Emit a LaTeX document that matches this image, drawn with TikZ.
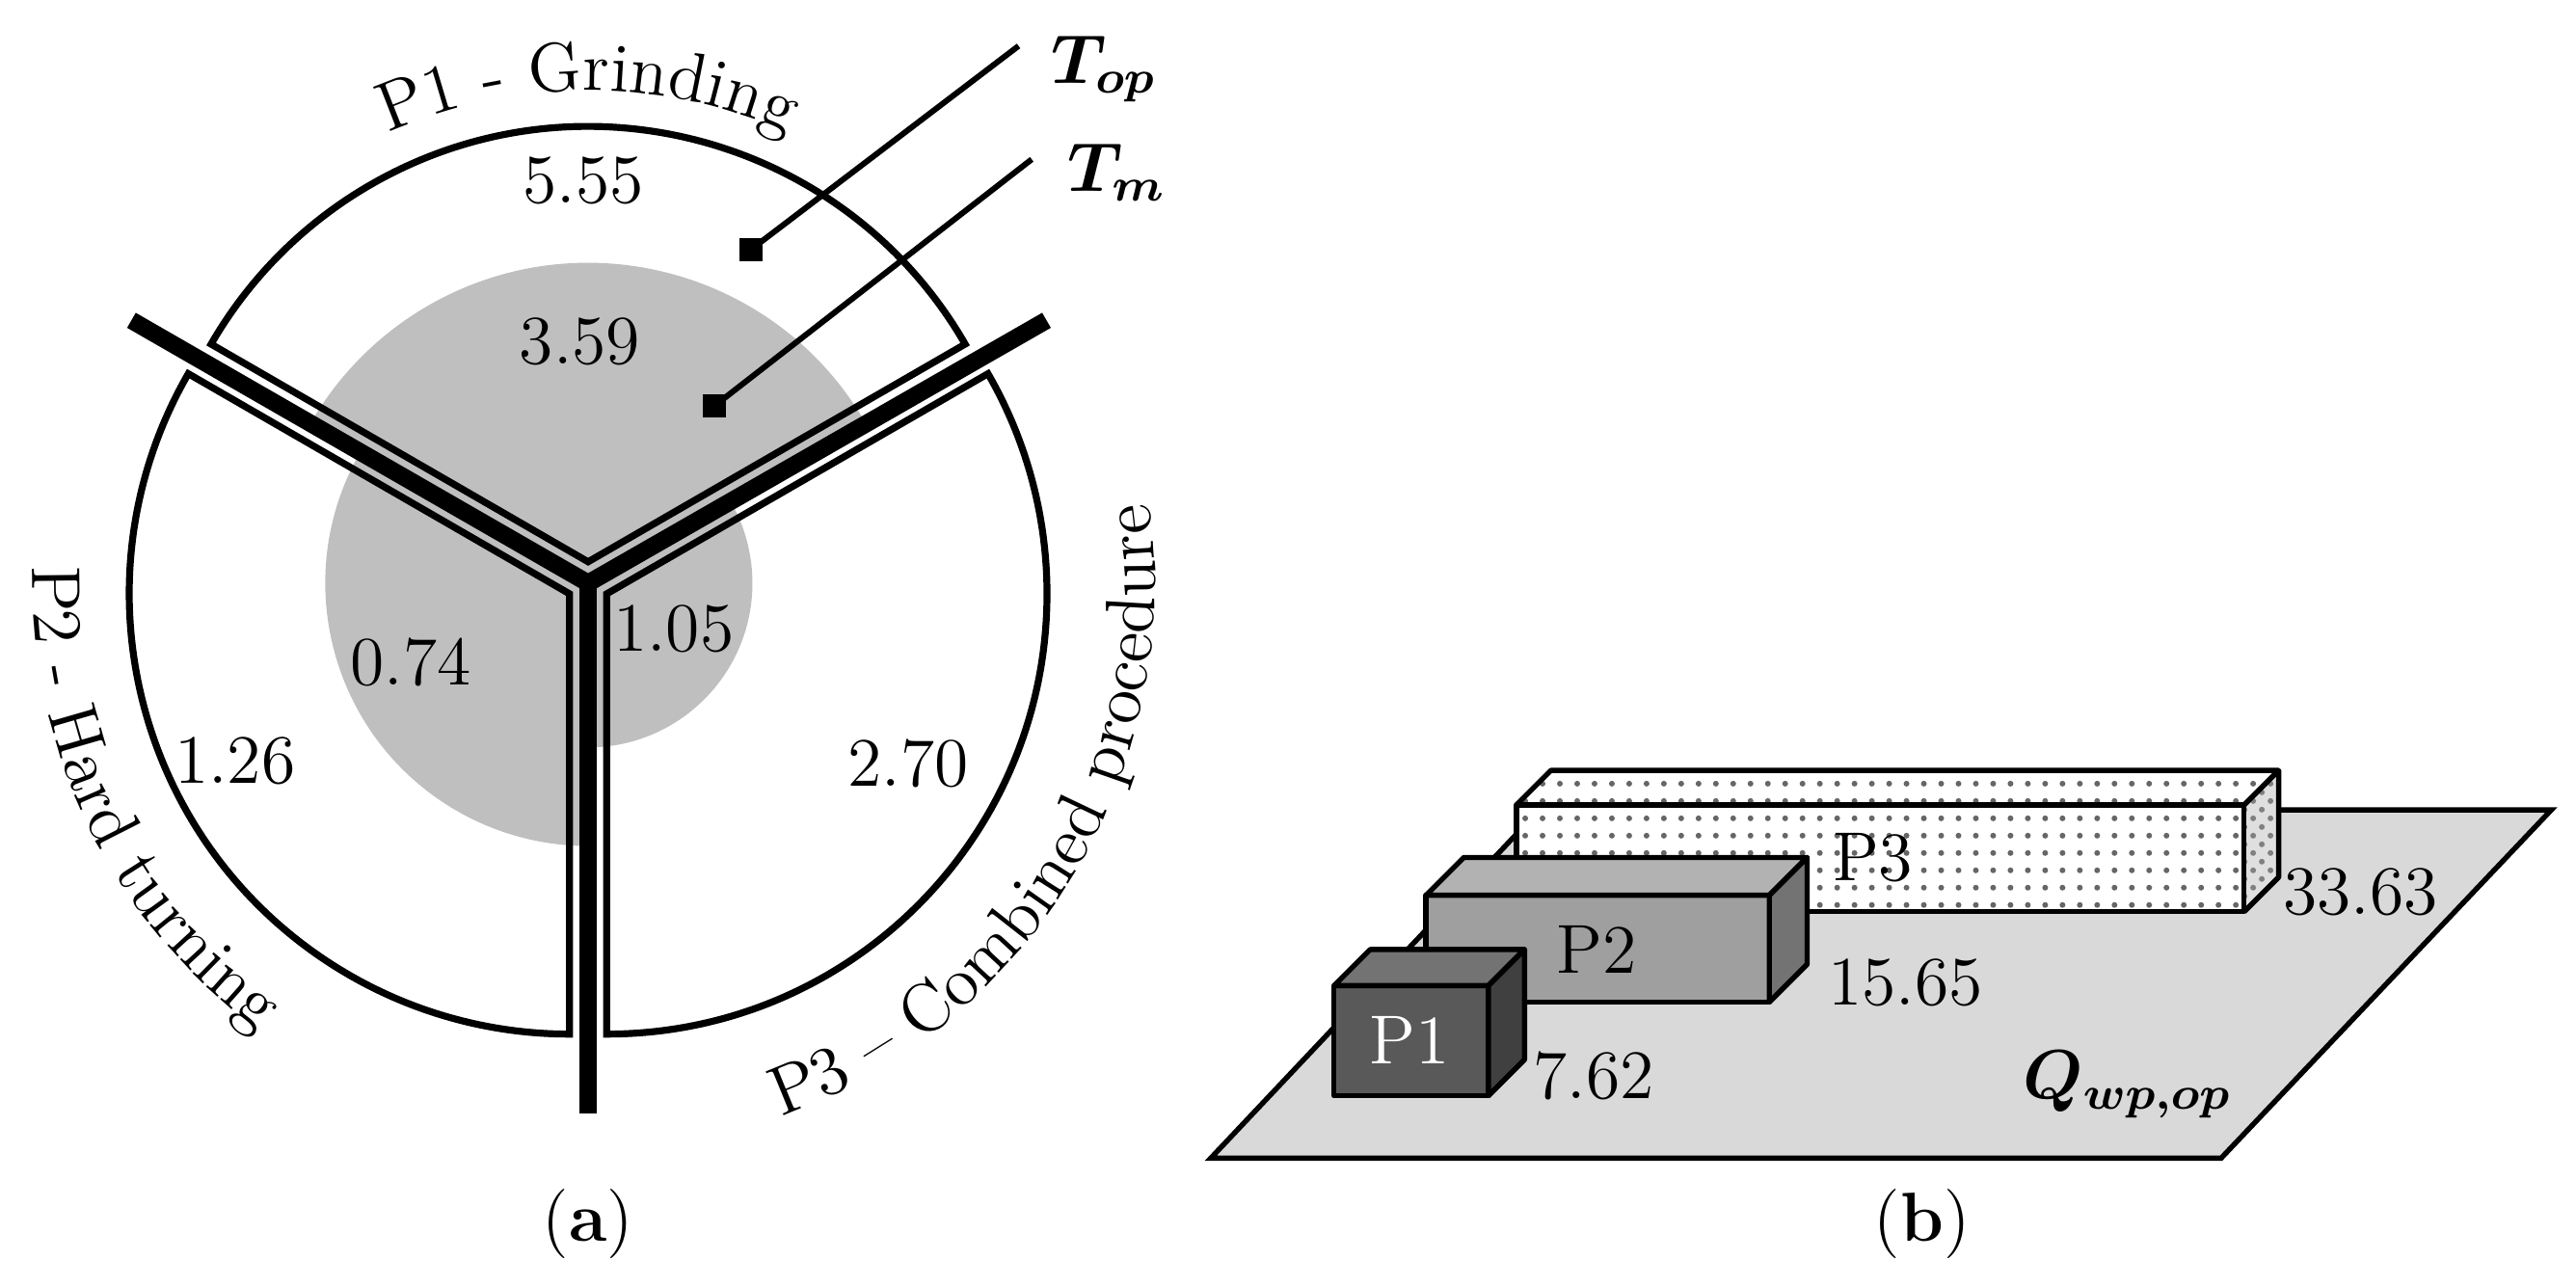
\documentclass[tikz,border=0pt]{standalone}
\usepackage{amsmath,bm}
\usetikzlibrary{decorations.text,patterns}
\begin{document}
\begin{tikzpicture}[x=0.01cm,y=0.01cm,
  lbl/.style={font=\fontsize{12}{14}\selectfont},
  wedge/.style={draw=black,line width=1.2pt},
  divider/.style={line width=3pt},
  sq/.style={fill=black,minimum size=0.14cm,inner sep=0pt},
  box/.style={draw=black,line width=0.9pt,line join=round},
  curv/.style={decorate,decoration={text along path,text align=center}}]
\useasboundingbox (0,0) rectangle (1568,783);
\coordinate (C) at (358,428);
% gray Tm sectors
\fill[gray!50] (C) -- ++(30:195) arc (30:150:195) -- cycle;
\fill[gray!50] (C) -- ++(150:160) arc (150:270:160) -- cycle;
\fill[gray!50] (C) -- ++(-90:100) arc (-90:30:100) -- cycle;
% wedges
\coordinate (c1) at (358,441);
\coordinate (c2) at (346.7,421.5);
\coordinate (c3) at (369.3,421.5);
\draw[wedge] (c1) -- ++(30:265) arc (30:150:265) -- cycle;
\draw[wedge] (c2) -- ++(150:268) arc (150:270:268) -- cycle;
\draw[wedge] (c3) -- ++(-90:268) arc (-90:30:268) -- cycle;
% dividers
\coordinate (d1) at (80,588);
\coordinate (d2) at (637,588);
\coordinate (d3) at (358,105);
\draw[divider] (d1) -- (C) -- (d2);
\draw[divider] (C) -- (d3);
% pointers
\node[sq] (s1) at (457,631) {};
\node[sq] (s2) at (435,536) {};
\coordinate (e1) at (620,755);
\coordinate (e2) at (628,686);
\draw[line width=1pt] (s1.center) -- (e1);
\draw[line width=1pt] (s2.center) -- (e2);
\node[lbl] (top) at (672,741) {$\bm{T_{op}}$};
\node[lbl] (tm) at (680,678) {$\bm{T_m}$};
% values
\node[lbl] (v1) at (355,673) {5.55};
\node[lbl] (v2) at (353,575) {3.59};
\node[lbl] (v3) at (250,380) {0.74};
\node[lbl] (v4) at (143,320) {1.26};
\node[lbl] (v5) at (410,400) {1.05};
\node[lbl] (v6) at (553,318) {2.70};
% curved labels
\path[curv,decoration={text={|\fontsize{12}{14}\selectfont|P1 - Grinding}}] (C) ++(125:300) arc (125:55:300);
\path[curv,decoration={text={|\fontsize{12}{14}\selectfont|P2 - Hard turning}}] (C) ++(150:338) arc (150:262:338);
\path[curv,decoration={text={|\fontsize{12}{14}\selectfont|P3 {\textendash} Combined procedure}}] (C) ++(-95:345) arc (-95:33:345);
% right panel floor
\draw[fill=gray!30,line width=0.9pt] (737,78) -- (1352,78) -- (1553,290) -- (937,290) -- cycle;
% P3
\fill[white] (923,228) rectangle (1366,293);
\fill[pattern=dots,pattern color=black!60] (923,228) rectangle (1366,293);
\fill[white] (923,293) -- (944,314) -- (1387,314) -- (1366,293) -- cycle;
\fill[pattern=dots,pattern color=black!60] (923,293) -- (944,314) -- (1387,314) -- (1366,293) -- cycle;
\fill[gray!25] (1366,228) -- (1387,249) -- (1387,314) -- (1366,293) -- cycle;
\fill[pattern=crosshatch dots,pattern color=black!50] (1366,228) -- (1387,249) -- (1387,314) -- (1366,293) -- cycle;
\draw[box] (923,228) rectangle (1366,293);
\draw[box] (923,293) -- (944,314) -- (1387,314) -- (1366,293);
\draw[box] (1366,228) -- (1387,249) -- (1387,314);
% P2
\draw[box,fill=gray!75] (868,173) rectangle (1077,238);
\draw[box,fill=gray!60] (868,238) -- (891,261) -- (1100,261) -- (1077,238) -- cycle;
\draw[box,fill=gray!90!black] (1077,173) -- (1100,196) -- (1100,261) -- (1077,238) -- cycle;
% P1
\draw[box,fill=black!65] (812,116) rectangle (906,183);
\draw[box,fill=black!55] (812,183) -- (834,205) -- (928,205) -- (906,183) -- cycle;
\draw[box,fill=black!75] (906,116) -- (928,138) -- (928,205) -- (906,183) -- cycle;
\node[lbl,text=white] (p1) at (858,150) {P1};
\node[lbl] (p2) at (972,205) {P2};
\node[lbl] (p3) at (1140,261) {P3};
\node[lbl] (n1) at (970,128) {7.62};
\node[lbl] (n2) at (1160,185) {15.65};
\node[lbl] (n3) at (1437,240) {33.63};
\node[lbl] (q) at (1295,123) {$\bm{Q_{wp,op}}$};
\node[lbl] (a) at (358,38) {(\textbf{a})};
\node[lbl] (b) at (1170,38) {(\textbf{b})};
\end{tikzpicture}
\end{document}
